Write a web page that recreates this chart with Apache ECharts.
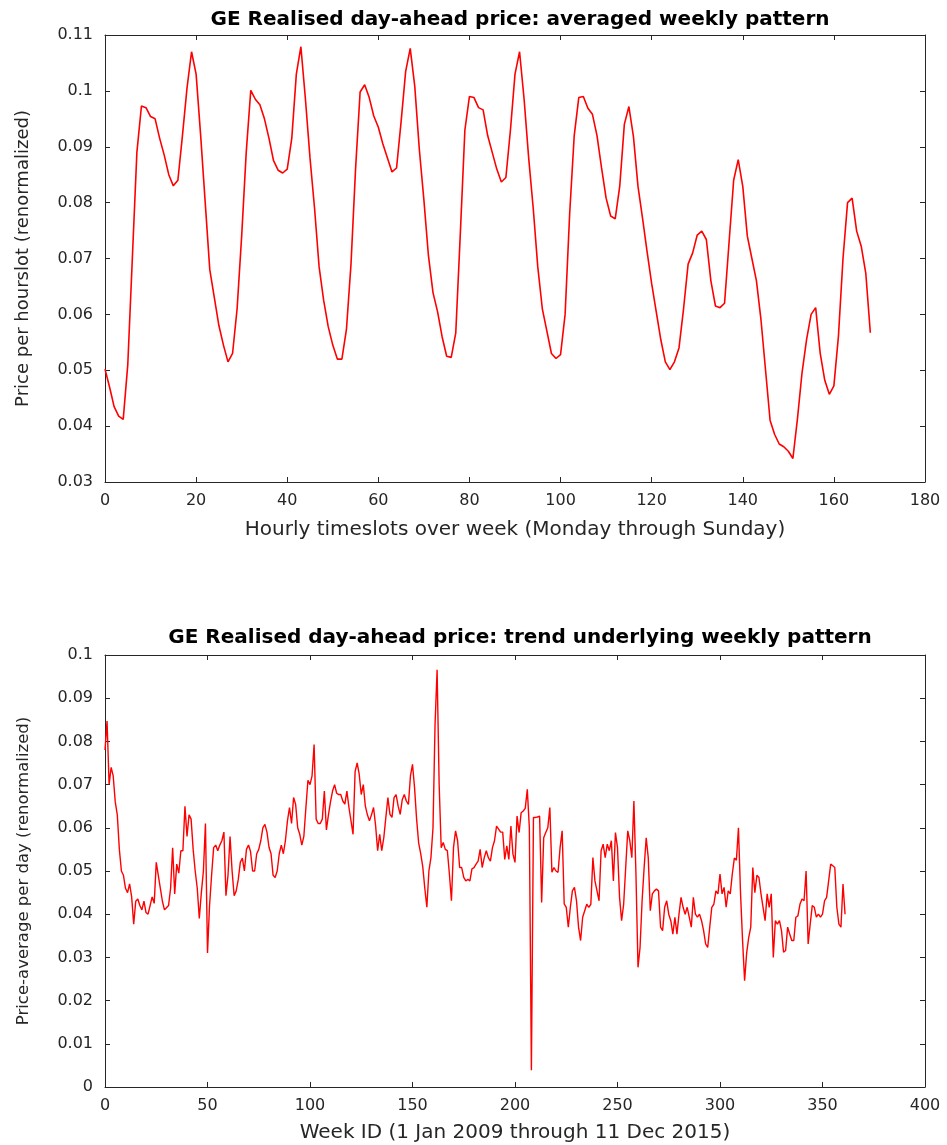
<!DOCTYPE html>
<html>
<head>
<meta charset="utf-8">
<script src="https://cdn.jsdelivr.net/npm/echarts@6/dist/echarts.min.js"></script>
<style>
html,body{margin:0;padding:0;background:#fff;}
#chart{width:947px;height:1145px;}
</style>
</head>
<body>
<div id="chart"></div>
<script>
// ---- Data ----
const topTitle = 'GE Realised day-ahead price: averaged weekly pattern';
const bottomTitle = 'GE Realised day-ahead price: trend underlying weekly pattern';
const topXName = 'Hourly timeslots over week (Monday through Sunday)';
const topYName = 'Price per hourslot (renormalized)';
const bottomXName = 'Week ID (1 Jan 2009 through 11 Dec 2015)';
const bottomYName = 'Price-average per day (renormalized)';

// hourly slot index starts at 0
const hourStart = 0;
const hourlyPrice = [
 0.0502,0.0470,0.0435,0.0418,0.0412,0.0510,0.0700,0.0890,0.0973,0.0970,
 0.0954,0.0950,0.0915,0.0885,0.0850,0.0830,0.0840,0.0920,0.1005,0.1070,
 0.1030,0.0920,0.0800,0.0680,0.0630,0.0580,0.0545,0.0515,0.0530,0.0610,
 0.0740,0.0890,0.1001,0.0985,0.0975,0.0950,0.0915,0.0875,0.0858,0.0853,
 0.0860,0.0915,0.1030,0.1079,0.0985,0.0880,0.0790,0.0685,0.0625,0.0578,
 0.0545,0.0520,0.0520,0.0573,0.0690,0.0860,0.0998,0.1011,0.0988,0.0955,
 0.0935,0.0905,0.0880,0.0855,0.0862,0.0945,0.1035,0.1076,0.1008,0.0895,
 0.0805,0.0705,0.0639,0.0605,0.0560,0.0525,0.0523,0.0567,0.0745,0.0930,
 0.0990,0.0988,0.0970,0.0966,0.0920,0.0890,0.0860,0.0837,0.0845,0.0930,
 0.1030,0.1070,0.0985,0.0880,0.0790,0.0685,0.0610,0.0570,0.0530,0.0521,
 0.0528,0.0600,0.0780,0.0920,0.0988,0.0990,0.0969,0.0958,0.0920,0.0862,
 0.0808,0.0776,0.0771,0.0830,0.0940,0.0972,0.0918,0.0829,0.0772,0.0712,
 0.0655,0.0605,0.0555,0.0515,0.0501,0.0515,0.0540,0.0610,0.0690,0.0710,
 0.0742,0.0749,0.0734,0.0660,0.0615,0.0612,0.0620,0.0730,0.0840,0.0877,
 0.0829,0.0740,0.0700,0.0660,0.0590,0.0500,0.0410,0.0385,0.0368,0.0363,
 0.0355,0.0342,0.0413,0.0495,0.0555,0.0600,0.0612,0.0530,0.0482,0.0457,
 0.0472,0.0561,0.0700,0.0800,0.0808,0.0749,0.0722,0.0674,0.0567
];

// week index starts at 0
const weekStart = 0;
const weeklyPrice = [
 0.078,0.0847,0.070,0.074,0.072,0.066,0.063,0.055,0.050,0.049,
 0.046,0.045,0.047,0.044,0.0377,0.043,0.0435,0.042,0.041,0.043,
 0.0404,0.040,0.042,0.044,0.0425,0.052,0.049,0.046,0.043,0.041,
 0.0415,0.042,0.046,0.0554,0.0447,0.0516,0.0495,0.0547,0.0547,0.065,
 0.058,0.063,0.062,0.055,0.050,0.046,0.039,0.045,0.050,0.061,
 0.031,0.042,0.049,0.0554,0.056,0.0547,0.056,0.057,0.059,0.0443,
 0.049,0.058,0.050,0.0443,0.0454,0.048,0.052,0.053,0.050,0.055,
 0.056,0.0545,0.050,0.050,0.054,0.055,0.057,0.060,0.0608,0.059,
 0.0555,0.054,0.049,0.0485,0.050,0.054,0.056,0.054,0.057,0.0616,
 0.0647,0.061,0.067,0.0654,0.060,0.0585,0.056,0.058,0.0647,0.071,
 0.070,0.072,0.0793,0.062,0.061,0.061,0.062,0.0685,0.0595,0.063,
 0.066,0.0685,0.070,0.068,0.0677,0.0677,0.0662,0.0655,0.0685,0.0647,
 0.0616,0.0585,0.073,0.075,0.0724,0.0677,0.070,0.065,0.063,0.0616,
 0.063,0.0647,0.0605,0.0547,0.0585,0.0547,0.0577,0.0624,0.067,0.0631,
 0.0624,0.067,0.0677,0.065,0.0631,0.0665,0.0677,0.0662,0.0654,0.072,
 0.0747,0.0693,0.062,0.0565,0.054,0.051,0.046,0.0416,0.050,0.0531,
 0.060,0.0839,0.0966,0.070,0.0554,0.0566,0.055,0.0547,0.0493,0.0431,
 0.0554,0.0593,0.057,0.0508,0.0508,0.0485,0.0477,0.0481,0.0477,0.0505,
 0.0508,0.0516,0.0523,0.055,0.0508,0.0531,0.0547,0.0531,0.0523,0.0554,
 0.057,0.0604,0.0597,0.059,0.059,0.0527,0.0558,0.0527,0.0604,0.0539,
 0.052,0.0627,0.0589,0.0635,0.0639,0.0645,0.0689,0.060,0.0039,0.0624,
 0.0624,0.0625,0.0627,0.0427,0.0577,0.0589,0.060,0.0647,0.0497,0.0508,
 0.050,0.0497,0.0554,0.0593,0.0424,0.0416,0.037,0.0416,0.0454,0.0462,
 0.0431,0.037,0.0339,0.0393,0.0408,0.0423,0.0416,0.0423,0.0531,0.0477,
 0.0454,0.0431,0.0547,0.0562,0.0531,0.0562,0.0547,0.057,0.0477,0.0589,
 0.0554,0.0439,0.0385,0.0423,0.0508,0.0593,0.057,0.0531,0.0662,0.0493,
 0.0277,0.0323,0.0431,0.0508,0.0577,0.0531,0.0408,0.0447,0.0454,0.0458,
 0.0454,0.037,0.0362,0.0416,0.0431,0.040,0.0385,0.0354,0.0393,0.0354,
 0.040,0.0439,0.0416,0.040,0.0416,0.0393,0.037,0.0439,0.040,0.0393,
 0.040,0.0385,0.0362,0.0331,0.0323,0.037,0.0416,0.0423,0.0454,0.0447,
 0.0493,0.0447,0.0462,0.0416,0.0454,0.0447,0.0493,0.053,0.0525,0.060,
 0.045,0.034,0.0246,0.031,0.0346,0.037,0.0508,0.045,0.049,0.0485,
 0.0447,0.0416,0.0385,0.0447,0.0416,0.0447,0.030,0.0385,0.0377,0.0385,
 0.0362,0.0312,0.0316,0.037,0.0354,0.0339,0.0339,0.0393,0.0396,0.0423,
 0.0435,0.0431,0.050,0.0331,0.0377,0.042,0.0416,0.0393,0.040,0.0393,
 0.040,0.0431,0.0439,0.0477,0.0516,0.0512,0.0508,0.0416,0.0377,0.037,
 0.047,0.040
];

// axis ranges / ticks
const topX = {min: 0, max: 180, interval: 20};
const topY = {min: 0.03, max: 0.11, interval: 0.01};
const botX = {min: 0, max: 400, interval: 50};
const botY = {min: 0, max: 0.1, interval: 0.01};

// ---- Chart ----
const FONT = 'DejaVu Sans';
const AX = '#262626';

function xAxisCfg(grid, r, pos, show, name, gap) {
  return {
    type: 'value', gridIndex: grid, position: pos,
    min: r.min, max: r.max, interval: r.interval,
    name: show ? name : '', nameLocation: 'middle', nameGap: gap || 36,
    nameTextStyle: {fontFamily: FONT, fontSize: 20, color: AX},
    axisLine: {show: true, onZero: false, lineStyle: {color: AX, width: 1}},
    axisTick: {show: true, inside: true, length: 5, lineStyle: {color: AX}},
    axisLabel: {show: show, margin: 11, fontFamily: FONT, fontSize: 16, color: AX},
    splitLine: {show: false}
  };
}
function yAxisCfg(grid, r, pos, show, name, fs) {
  return {
    type: 'value', gridIndex: grid, position: pos,
    min: r.min, max: r.max, interval: r.interval,
    name: show ? name : '', nameLocation: 'middle', nameGap: 73,
    nameTextStyle: {fontFamily: FONT, fontSize: fs || 18, color: AX},
    axisLine: {show: true, onZero: false, lineStyle: {color: AX, width: 1}},
    axisTick: {show: true, inside: true, length: 5, lineStyle: {color: AX}},
    axisLabel: {show: show, margin: 12, fontFamily: FONT, fontSize: 16, color: AX},
    splitLine: {show: false}
  };
}

const topData = hourlyPrice.map((v, i) => [hourStart + i, v]);
const botData = weeklyPrice.map((v, i) => [weekStart + i, v]);

const chart = echarts.init(document.getElementById('chart'), null, {renderer: 'canvas'});
chart.setOption({
  animation: false,
  backgroundColor: '#ffffff',
  title: [
    {text: topTitle, left: 515, top: 5, textAlign: 'center',
     textStyle: {fontFamily: FONT, fontSize: 20, fontWeight: 'bold', color: '#000'}},
    {text: bottomTitle, left: 515, top: 623, textAlign: 'center',
     textStyle: {fontFamily: FONT, fontSize: 20, fontWeight: 'bold', color: '#000'}}
  ],
  grid: [
    {left: 105, top: 35, width: 820, height: 447, show: false},
    {left: 105, top: 655, width: 820, height: 432, show: false}
  ],
  xAxis: [
    xAxisCfg(0, topX, 'bottom', true, topXName, 38),
    xAxisCfg(0, topX, 'top', false, ''),
    xAxisCfg(1, botX, 'bottom', true, bottomXName, 36),
    xAxisCfg(1, botX, 'top', false, '')
  ],
  yAxis: [
    yAxisCfg(0, topY, 'left', true, topYName, 18),
    yAxisCfg(0, topY, 'right', false, ''),
    yAxisCfg(1, botY, 'left', true, bottomYName, 16.5),
    yAxisCfg(1, botY, 'right', false, '')
  ],
  series: [
    {type: 'line', xAxisIndex: 0, yAxisIndex: 0, data: topData, showSymbol: false,
     lineStyle: {color: '#ff0000', width: 1.6}, itemStyle: {color: '#ff0000'}},
    {type: 'line', xAxisIndex: 2, yAxisIndex: 2, data: botData, showSymbol: false,
     lineStyle: {color: '#ff0000', width: 1.4}, itemStyle: {color: '#ff0000'}}
  ]
});
</script>
</body>
</html>
